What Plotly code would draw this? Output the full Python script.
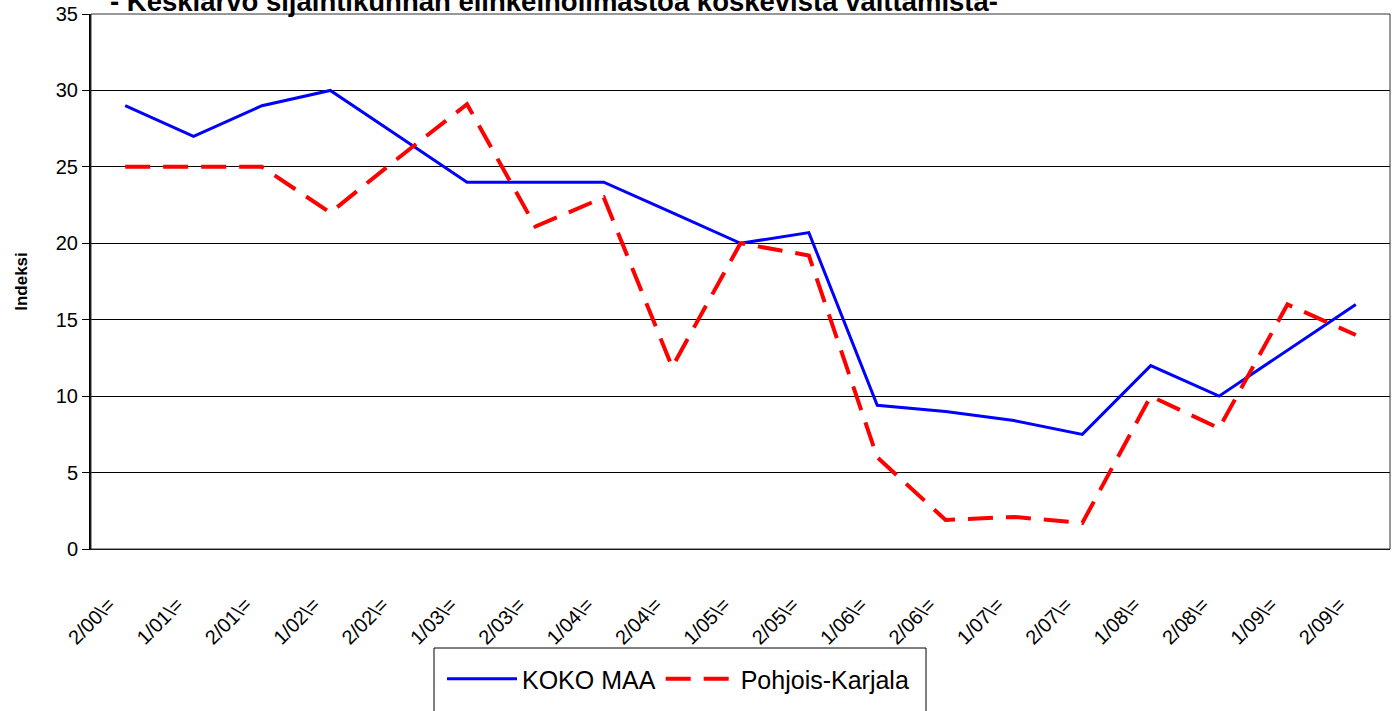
import plotly.graph_objects as go

categories = ["2/00\\=", "1/01\\=", "2/01\\=", "1/02\\=", "2/02\\=", "1/03\\=", "2/03\\=",
              "1/04\\=", "2/04\\=", "1/05\\=", "2/05\\=", "1/06\\=", "2/06\\=", "1/07\\=",
              "2/07\\=", "1/08\\=", "2/08\\=", "1/09\\=", "2/09\\="]
koko_maa = [29, 27, 29, 30, 27, 24, 24, 24, 22, 20, 20.7, 9.4, 9.0, 8.4, 7.5, 12, 10, 13, 16]
pohjois_karjala = [25, 25, 25, 22, 25.6, 29.1, 21.1, 23, 11.9, 20, 19.2, 6.0, 1.9, 2.1, 1.7, 10, 7.9, 16, 14]
y_ticks = [0, 5, 10, 15, 20, 25, 30, 35]

title_text = "- Keskiarvo sijaintikunnan elinkeinoilmastoa koskevista väittämistä-"
FONT = "Arial, Liberation Sans, sans-serif"

W, H = 1395, 711
PL, PT, PB = 91, 14, 549          # plot area edges in pixels
PW, PH = 1299, PB - PT

fig = go.Figure()
fig.add_trace(go.Scatter(x=categories, y=koko_maa, mode="lines", name="KOKO MAA",
                         line=dict(color="#0000FF", width=3)))
fig.add_trace(go.Scatter(x=categories, y=pohjois_karjala, mode="lines", name="Pohjois-Karjala",
                         line=dict(color="#FF0000", width=4, dash="25px,13px")))

fig.update_layout(
    width=W, height=H,
    margin=dict(l=PL, r=W - PL - PW, t=PT, b=H - PB, autoexpand=False),
    paper_bgcolor="white", plot_bgcolor="white",
    font=dict(family=FONT, color="black", size=20),
    showlegend=True,
    legend=dict(orientation="h", x=(442 - PL) / PW, xanchor="left", y=(PB - 656) / PH, yanchor="top",
                font=dict(size=25, family=FONT), bgcolor="rgba(0,0,0,0)",
                borderwidth=0, itemwidth=70),
    xaxis=dict(type="category", range=[-0.5, len(categories) - 0.5], automargin=False,
               showgrid=False, showline=True, linecolor="black", linewidth=1,
               ticks="", tickangle=-45, tickfont=dict(size=20),
               ticklabelstandoff=35, ticklabelshift=-16),
    yaxis=dict(range=[0, 35], tickvals=y_ticks, showgrid=True, gridcolor="#000000", gridwidth=1,
               automargin=False,
               showline=True, linecolor="black", linewidth=2, ticks="outside", ticklen=7,
               tickcolor="black", tickfont=dict(size=20), zeroline=False,
               title=dict(text="<b>Indeksi</b>", font=dict(size=17), standoff=24)),
    shapes=[
        dict(type="rect", xref="paper", yref="paper", x0=0, x1=1, y0=0, y1=1,
             line=dict(color="#333333", width=1)),
        dict(type="rect", xref="paper", yref="paper", x0=(434 - PL) / PW, x1=(926 - PL) / PW,
             y0=-0.4, y1=(PB - 648) / PH, line=dict(color="black", width=1)),
    ],
    annotations=[
        dict(text="<b>" + title_text + "</b>", xref="paper", yref="paper", x=0.3566, y=1,
             xanchor="center", yanchor="bottom", showarrow=False, font=dict(size=27.5, family=FONT),
             yshift=-5),
    ],
)

fig.write_html("out.html", config={"displayModeBar": False},
               post_script="document.body.style.margin='0';")
